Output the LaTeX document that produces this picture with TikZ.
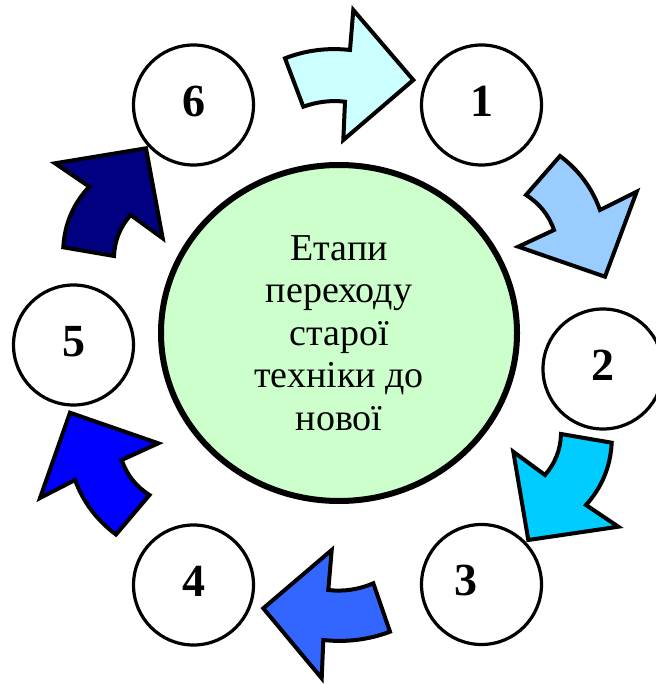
\documentclass[tikz,border=0pt]{standalone}
\usepackage{fontspec}
\setmainfont{Liberation Serif}
\usetikzlibrary{shapes.geometric}
\definecolor{arrA}{HTML}{CCFFFF}
\definecolor{arrB}{HTML}{99CCFF}
\definecolor{arrC}{HTML}{00CCFF}
\definecolor{arrD}{HTML}{3366FF}
\definecolor{arrE}{HTML}{0000FF}
\definecolor{arrF}{HTML}{000080}
\definecolor{hubfill}{HTML}{CCFFCC}
\begin{document}
\begin{tikzpicture}[x=1pt,y=-1pt,
  stage/.style={circle,draw=black,line width=3.2pt,fill=white,minimum size=120pt,
    inner sep=0pt,font=\fontsize{46}{46}\selectfont\bfseries,text depth=8pt},
  hub/.style={ellipse,draw=black,line width=6pt,fill=hubfill,minimum width=356pt,
    minimum height=336pt,inner sep=0pt,align=center,font=\fontsize{38}{42.5}\selectfont},
  blockarrow/.style={draw=black,line width=4pt,line join=miter}]
\useasboundingbox (0,0) rectangle (655,684);

\node[hub] (hub) at (339,333) {Етапи\\переходу\\старої\\техніки до\\нової};

\node[stage] (s1) at (481.5,105) {1};
\node[stage] (s2) at (603,369) {2};
\node[stage] (s3) at (481.5,584.5) {3\kern32pt};
\node[stage] (s4) at (193.5,585) {4};
\node[stage] (s5) at (73.5,345) {5};
\node[stage] (s6) at (193.5,105) {6};

% 6 -> 1
\draw[blockarrow,fill=arrA] (285,58.3) .. controls (306,50.2) and (327.6,47.5) .. (350,50)
  -- (353.3,10) -- (413.3,80) -- (343.3,140) -- (345,101.7)
  .. controls (331.1,100.1) and (317.2,101.7) .. (303.3,106.7) -- cycle;
% 1 -> 2
\draw[blockarrow,fill=arrB] (560,156) .. controls (578.7,170) and (592.1,188) .. (600,210)
  -- (636.7,191.7) -- (605,276.7) -- (518.3,246.7) -- (554,230)
  .. controls (548.8,215) and (539.4,203.4) .. (526,195) -- cycle;
% 2 -> 3
\draw[blockarrow,fill=arrC] (561,434) .. controls (560.6,449.6) and (555.2,463.2) .. (545,475)
  -- (513.3,451.7) -- (528.3,540) -- (618.3,526.7) -- (586,505)
  .. controls (602,487.2) and (610.5,466.5) .. (611.7,442.7) -- cycle;
% 3 -> 4
\draw[blockarrow,fill=arrD] (328.3,590) .. controls (343.9,591.8) and (358.9,589.5) .. (373.3,583.3)
  -- (390,631.7) .. controls (368.5,639.8) and (346.2,642.5) .. (323.3,640)
  -- (321.7,678.3) -- (263.3,608.3) -- (331.7,550) -- cycle;
% 4 -> 5
\draw[blockarrow,fill=arrE] (121.7,460) .. controls (126.9,475) and (136.1,486.6) .. (149.5,495)
  -- (116,534.5) .. controls (96.9,520.3) and (83.3,502.2) .. (75,480)
  -- (40,498) -- (70,412.7) -- (158.3,443.3) -- cycle;
% 5 -> 6
\draw[blockarrow,fill=arrF] (130.7,215) .. controls (120.2,226.7) and (114.7,240.3) .. (114,256)
  -- (63.3,247.3) .. controls (64.6,223.9) and (73.2,203.7) .. (89.3,186.7)
  -- (55,163.3) -- (146,148.3) -- (162.7,238.3) -- cycle;
\end{tikzpicture}
\end{document}
